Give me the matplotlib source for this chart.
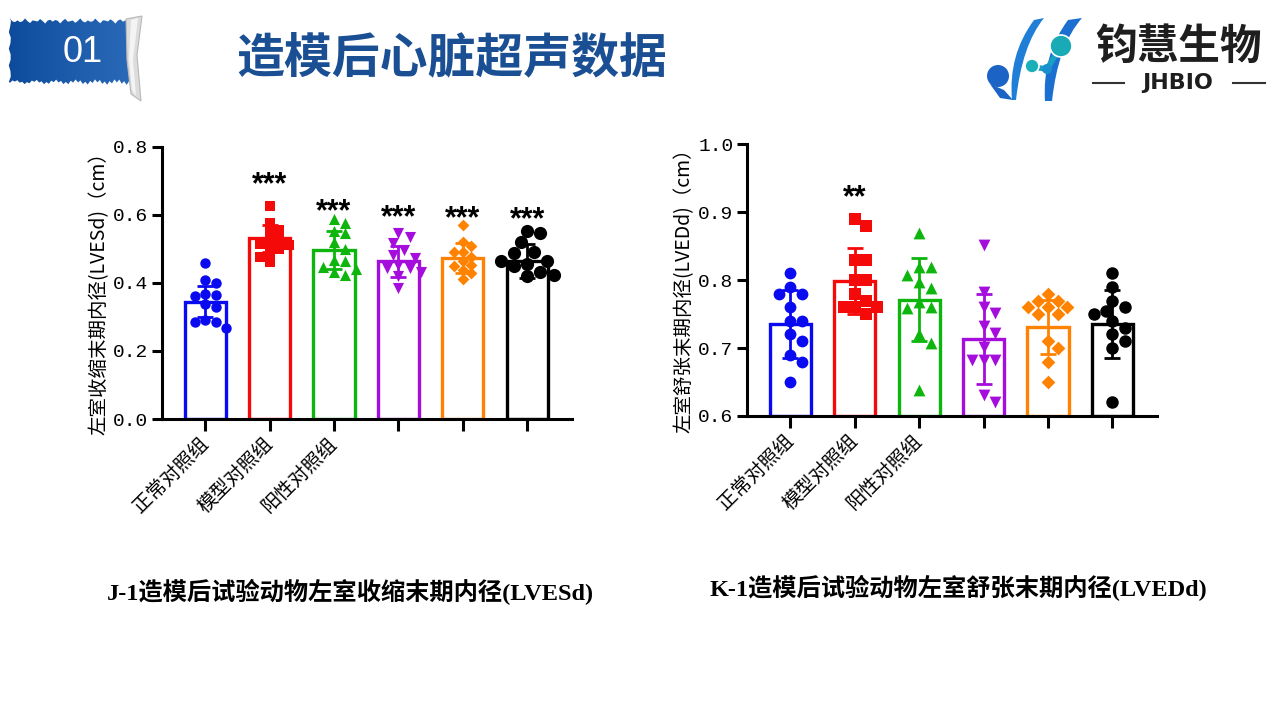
import numpy as np
import matplotlib
matplotlib.use("Agg")
import matplotlib.pyplot as plt
from matplotlib.path import Path
from matplotlib.patches import PathPatch, Polygon, Circle
import matplotlib.transforms as mtransforms

plt.rcParams['font.family'] = ['Noto Sans CJK SC', 'DejaVu Sans']

# ---------------- data ----------------
tick_labels = ['正常对照组', '模型对照组', '阳性对照组', '', '', '']

# LVESd (cm)
lvesd_g1 = [0.458, 0.409, 0.399, 0.368, 0.365, 0.360, 0.338, 0.330, 0.291, 0.286, 0.286, 0.267]
lvesd_g2 = [0.626, 0.577, 0.556, 0.550, 0.530, 0.520, 0.515, 0.510, 0.500, 0.490, 0.475, 0.460]
lvesd_g3 = [0.587, 0.576, 0.551, 0.546, 0.520, 0.500, 0.468, 0.463, 0.448, 0.440, 0.433, 0.424]
lvesd_g4 = [0.546, 0.536, 0.517, 0.497, 0.482, 0.473, 0.453, 0.443, 0.443, 0.433, 0.419, 0.384]
lvesd_g5 = [0.571, 0.521, 0.507, 0.490, 0.490, 0.477, 0.463, 0.453, 0.450, 0.438, 0.429, 0.411]
lvesd_g6 = [0.551, 0.546, 0.520, 0.492, 0.487, 0.463, 0.463, 0.455, 0.450, 0.433, 0.424, 0.419]
lvesd_mean = [0.345, 0.531, 0.497, 0.463, 0.473, 0.465]
lvesd_sd = [0.045, 0.040, 0.055, 0.045, 0.044, 0.050]
lvesd_sig = ['', '***', '***', '***', '***', '***']
lvesd_sig_y = [0, 0.713, 0.634, 0.617, 0.615, 0.610]

# LVEDd (cm)
lvedd_g1 = [0.810, 0.790, 0.780, 0.780, 0.760, 0.740, 0.740, 0.720, 0.710, 0.690, 0.680, 0.650]
lvedd_g2 = [0.890, 0.880, 0.830, 0.830, 0.800, 0.800, 0.780, 0.770, 0.760, 0.760, 0.760, 0.750]
lvedd_g3 = [0.869, 0.819, 0.819, 0.808, 0.798, 0.788, 0.768, 0.760, 0.759, 0.720, 0.707, 0.638]
lvedd_g4 = [0.852, 0.783, 0.761, 0.751, 0.732, 0.722, 0.702, 0.682, 0.682, 0.682, 0.631, 0.621]
lvedd_g5 = [0.780, 0.770, 0.770, 0.760, 0.760, 0.760, 0.750, 0.750, 0.710, 0.700, 0.680, 0.650]
lvedd_g6 = [0.810, 0.790, 0.770, 0.760, 0.755, 0.750, 0.740, 0.730, 0.720, 0.710, 0.700, 0.620]
lvedd_mean = [0.7355, 0.799, 0.771, 0.713, 0.7315, 0.7355]
lvedd_sd = [0.050, 0.049, 0.061, 0.066, 0.040, 0.050]
lvedd_sig = ['', '**', '', '', '', '']
lvedd_sig_y = [0, 0.934, 0, 0, 0, 0]

# ---------------- styles ----------------
colors = ['#0A0AF0', '#F50A0A', '#0DB50D', '#A50DDC', '#FF8200', '#000000']
markers = ['o', 's', '^', 'v', 'D', 'o']
msize_left = [7.5, 7.0, 8.0, 8.0, 6.0, 9.5]
msize_right = [8.5, 8.0, 8.5, 8.5, 7.0, 9.0]

fig = plt.figure(figsize=(12.8, 7.2), dpi=100)
fig.patch.set_facecolor('white')

# ---------------- decorations (pixel coordinates) ----------------
bg = fig.add_axes([0, 0, 1, 1], zorder=0)
bg.set_xlim(0, 1280)
bg.set_ylim(720, 0)
bg.axis('off')

# torn blue banner
xt = np.linspace(10, 133, 50)
yt = 21 + 1.6 * np.sin(xt * 1.7) + 1.0 * np.sin(xt * 0.45)
xb = np.linspace(129, 10, 50)
yb = 82 + 1.8 * np.sin(xb * 1.3) + 1.2 * np.sin(xb * 0.31)
yl = np.linspace(82, 21, 12)
xl = 10 + 1.2 * np.sin(yl * 1.9)
ban = np.vstack([np.column_stack([xt, yt]), [[131, 50]],
                 np.column_stack([xb, yb]), np.column_stack([xl, yl])])
banner = Polygon(ban, closed=True, facecolor='none', edgecolor='none')
bg.add_patch(banner)
grad = np.linspace(0, 1, 256).reshape(1, -1)
im = bg.imshow(grad, extent=[8, 135, 90, 15], cmap=matplotlib.colors.LinearSegmentedColormap.from_list(
    'b', ['#0d4a9c', '#1d5cab', '#2a6ab8']), aspect='auto', zorder=1)
im.set_clip_path(banner)
curl = Polygon([[126, 19], [142, 16], [137, 55], [141, 101], [131, 94], [127, 60]],
               closed=True, facecolor='#dcdcdc', edgecolor='#b8b8b8', lw=0.8, zorder=2)
bg.add_patch(curl)
bg.add_patch(Polygon([[131, 20], [138, 18], [133, 60], [136, 96], [132, 90], [129, 58]],
                     closed=True, facecolor='#f4f4f4', edgecolor='none', zorder=3))
bg.text(83, 52, '01', color='white', fontsize=26, family='Liberation Sans',
        ha='center', va='center', zorder=4)

# title
bg.text(452, 58, '造模后心脏超声数据', color='#1B4F93', fontsize=34.5, fontweight='heavy',
        ha='center', va='center', zorder=4)

# logo
def blade(pts, color):
    verts = [pts[0], pts[1], pts[2], pts[3], pts[4], pts[5], pts[6], pts[0]]
    codes = [Path.MOVETO, Path.CURVE3, Path.CURVE3, Path.LINETO, Path.CURVE3, Path.CURVE3,
             Path.LINETO, Path.CLOSEPOLY]
    return PathPatch(Path(verts, codes), facecolor=color, edgecolor='none', zorder=3)

bg.add_patch(blade([(1044, 18), (1022, 45), (1016, 100), (1012, 100),
                    (1008, 55), (1034, 20), (1044, 18)], '#1f7fd6'))
bg.add_patch(blade([(1082, 18), (1058, 45), (1052, 101), (1045, 101),
                    (1042, 55), (1068, 20), (1082, 18)], '#1a6fd0'))
bg.add_patch(Circle((998, 76), 11, facecolor='#1b63c4', edgecolor='none', zorder=3))
bg.add_patch(Polygon([[990, 84], [1000, 98], [1013, 100], [1004, 90]], closed=True,
                     facecolor='#1b63c4', edgecolor='none', zorder=3))
bg.plot([1032, 1047, 1060], [67, 69, 48], color='#1a9fc4', lw=4, zorder=4, solid_capstyle='round')
bg.add_patch(Circle((1032, 66), 7, facecolor='#1bb0b8', edgecolor='white', lw=1.2, zorder=5))
bg.add_patch(Circle((1047, 69), 5, facecolor='#1a8fd0', edgecolor='none', zorder=5))
bg.add_patch(Circle((1061, 46), 11, facecolor='#18aab6', edgecolor='white', lw=1.2, zorder=5))
bg.text(1179, 47, '钧慧生物', color='#1e1e1e', fontsize=30, fontweight='bold',
        ha='center', va='center', zorder=4)
bg.text(1178, 83, 'JHBIO', color='#1e1e1e', fontsize=16, family='DejaVu Sans',
        fontweight='bold', ha='center', va='center', zorder=4)
bg.plot([1093, 1124], [83, 83], color='#333333', lw=1.5, zorder=4)
bg.plot([1233, 1265], [83, 83], color='#333333', lw=1.5, zorder=4)

# captions
cap_font = ['Liberation Serif', 'Noto Sans CJK SC']
bg.text(350, 592, 'J-1造模后试验动物左室收缩末期内径(LVESd)', family=cap_font,
        fontweight='bold', fontsize=17.5, ha='center', va='center', zorder=4)
bg.text(958, 588, 'K-1造模后试验动物左室舒张末期内径(LVEDd)', family=cap_font,
        fontweight='bold', fontsize=17.5, ha='center', va='center', zorder=4)


# ---------------- charts ----------------
def swarm_x(ax, x0, vals, diam_px):
    vals = np.asarray(vals, dtype=float)
    xscale = ax.transData.transform((1, 0))[0] - ax.transData.transform((0, 0))[0]
    order = np.argsort(-vals, kind='stable')
    cands = [0.0]
    for k in range(1, 5):
        cands += [k * 0.5 * diam_px, -k * 0.5 * diam_px]
    placed = []
    res = np.zeros(len(vals))
    for i in order:
        yp = ax.transData.transform((0, vals[i]))[1]
        best, best_d = cands[0], -1.0
        for c in cands:
            dmin = min([np.hypot(c - px, yp - py) for px, py in placed] or [1e9])
            if dmin >= 0.9 * diam_px:
                best = c
                break
            if dmin > best_d:
                best, best_d = c, dmin
        placed.append((best, yp))
        res[i] = best / xscale
    return x0 + res


def draw_chart(rect, ylim, yticks, groups, means, sds, sig, sig_y, msizes, ylabel, label_x):
    ax = fig.add_axes(rect, zorder=2)
    ax.set_facecolor('none')
    x = np.arange(len(means))
    ax.set_xlim(-0.67, 5.69)
    ax.set_ylim(*ylim)
    base = ylim[0]
    ax.bar(x, np.asarray(means) - base, bottom=base, width=0.64, facecolor='white',
           edgecolor=colors, linewidth=2.4, zorder=2)
    for i in range(len(means)):
        ax.errorbar(x[i], means[i], yerr=sds[i], fmt='none', ecolor=colors[i],
                    elinewidth=2.0, capsize=6, capthick=2.0, zorder=3)
        diam = msizes[i] * 100 / 72.0
        xs = swarm_x(ax, x[i], groups[i], diam)
        ax.scatter(xs, groups[i], marker=markers[i], s=msizes[i] ** 2, color=colors[i],
                   linewidths=0, zorder=4, clip_on=False)
        if sig[i]:
            tr = mtransforms.offset_copy(ax.transData, fig=fig, x=0, y=-12.5, units='points')
            ax.text(x[i], sig_y[i], sig[i], transform=tr, ha='center', va='baseline',
                    fontsize=22, fontweight='bold', family='Liberation Sans', zorder=5)
    for s in ['top', 'right']:
        ax.spines[s].set_visible(False)
    for s in ['left', 'bottom']:
        ax.spines[s].set_linewidth(2.2)
    ax.set_yticks(yticks)
    ax.set_yticklabels(['%.1f' % v for v in yticks], family='Liberation Mono', fontsize=14)
    ax.tick_params(axis='y', length=7, width=2.2, pad=3)
    ax.set_xticks(x)
    ax.set_xticklabels(tick_labels, rotation=45, ha='right', va='center',
                       rotation_mode='anchor', fontsize=14)
    ax.tick_params(axis='x', length=8.5, width=2.2, pad=7)
    ax.set_ylabel(ylabel, fontsize=14)
    ax.yaxis.set_label_coords(label_x, 0.48)
    return ax


draw_chart([162 / 1280, 1 - 419 / 720, 409.7 / 1280, 272.3 / 720], (0.0, 0.8),
           [0.0, 0.2, 0.4, 0.6, 0.8],
           [lvesd_g1, lvesd_g2, lvesd_g3, lvesd_g4, lvesd_g5, lvesd_g6],
           lvesd_mean, lvesd_sd, lvesd_sig, lvesd_sig_y, msize_left,
           '左室收缩末期内径(LVESd)（cm）', -0.127)

draw_chart([747.3 / 1280, 1 - 416 / 720, 409.4 / 1280, 271.7 / 720], (0.6, 1.0),
           [0.6, 0.7, 0.8, 0.9, 1.0],
           [lvedd_g1, lvedd_g2, lvedd_g3, lvedd_g4, lvedd_g5, lvedd_g6],
           lvedd_mean, lvedd_sd, lvedd_sig, lvedd_sig_y, msize_right,
           '左室舒张末期内径(LVEDd)（cm）', -0.128)

fig.savefig('out.png', dpi=100)
